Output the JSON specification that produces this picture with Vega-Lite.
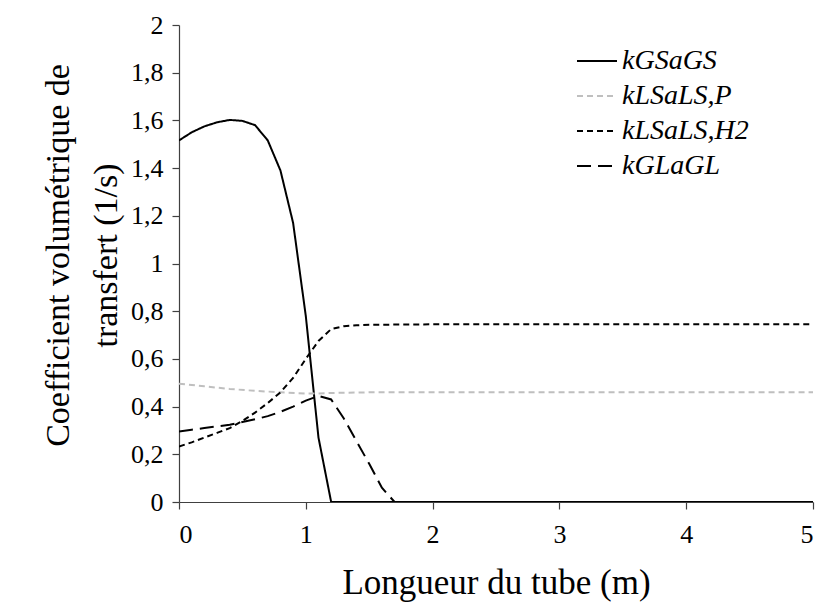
{
  "$schema": "https://vega.github.io/schema/vega-lite/v6.json",
  "autosize": {"type": "none"},
  "width": 634,
  "height": 477,
  "padding": {"left": 179, "top": 25, "right": 11, "bottom": 102},
  "background": "white",
  "config": {
    "view": {"stroke": null},
    "font": "Liberation Serif",
    "locale": {"number": {"decimal": ",", "thousands": " ", "grouping": [3], "currency": ["", " €"]}},
    "axis": {"grid": false, "domainColor": "#404040", "tickColor": "#404040", "labelColor": "black", "titleColor": "black", "titleFontWeight": "normal", "tickSize": 7, "domainWidth": 1.2, "tickWidth": 1.2}
  },
  "data": {"values": [
    {"x": 0, "y": 1.516, "s": "kGSaGS"},
    {"x": 0.1, "y": 1.55, "s": "kGSaGS"},
    {"x": 0.2, "y": 1.575, "s": "kGSaGS"},
    {"x": 0.3, "y": 1.592, "s": "kGSaGS"},
    {"x": 0.4, "y": 1.602, "s": "kGSaGS"},
    {"x": 0.5, "y": 1.598, "s": "kGSaGS"},
    {"x": 0.6, "y": 1.58, "s": "kGSaGS"},
    {"x": 0.7, "y": 1.516, "s": "kGSaGS"},
    {"x": 0.8, "y": 1.39, "s": "kGSaGS"},
    {"x": 0.9, "y": 1.17, "s": "kGSaGS"},
    {"x": 1.0, "y": 0.78, "s": "kGSaGS"},
    {"x": 1.1, "y": 0.27, "s": "kGSaGS"},
    {"x": 1.2, "y": 0, "s": "kGSaGS"},
    {"x": 2, "y": 0, "s": "kGSaGS"},
    {"x": 3, "y": 0, "s": "kGSaGS"},
    {"x": 4, "y": 0, "s": "kGSaGS"},
    {"x": 5, "y": 0, "s": "kGSaGS"},

    {"x": 0, "y": 0.496, "s": "kLSaLS,P"},
    {"x": 0.2, "y": 0.485, "s": "kLSaLS,P"},
    {"x": 0.4, "y": 0.474, "s": "kLSaLS,P"},
    {"x": 0.6, "y": 0.466, "s": "kLSaLS,P"},
    {"x": 0.8, "y": 0.46, "s": "kLSaLS,P"},
    {"x": 1.0, "y": 0.455, "s": "kLSaLS,P"},
    {"x": 1.1, "y": 0.455, "s": "kLSaLS,P"},
    {"x": 1.2, "y": 0.457, "s": "kLSaLS,P"},
    {"x": 1.5, "y": 0.46, "s": "kLSaLS,P"},
    {"x": 2, "y": 0.46, "s": "kLSaLS,P"},
    {"x": 3, "y": 0.46, "s": "kLSaLS,P"},
    {"x": 4, "y": 0.46, "s": "kLSaLS,P"},
    {"x": 5, "y": 0.46, "s": "kLSaLS,P"},

    {"x": 0, "y": 0.233, "s": "kLSaLS,H2"},
    {"x": 0.1, "y": 0.25, "s": "kLSaLS,H2"},
    {"x": 0.2, "y": 0.27, "s": "kLSaLS,H2"},
    {"x": 0.3, "y": 0.29, "s": "kLSaLS,H2"},
    {"x": 0.4, "y": 0.31, "s": "kLSaLS,H2"},
    {"x": 0.5, "y": 0.34, "s": "kLSaLS,H2"},
    {"x": 0.6, "y": 0.375, "s": "kLSaLS,H2"},
    {"x": 0.7, "y": 0.415, "s": "kLSaLS,H2"},
    {"x": 0.8, "y": 0.46, "s": "kLSaLS,H2"},
    {"x": 0.9, "y": 0.52, "s": "kLSaLS,H2"},
    {"x": 1.0, "y": 0.6, "s": "kLSaLS,H2"},
    {"x": 1.1, "y": 0.675, "s": "kLSaLS,H2"},
    {"x": 1.2, "y": 0.725, "s": "kLSaLS,H2"},
    {"x": 1.3, "y": 0.737, "s": "kLSaLS,H2"},
    {"x": 1.4, "y": 0.741, "s": "kLSaLS,H2"},
    {"x": 1.5, "y": 0.743, "s": "kLSaLS,H2"},
    {"x": 2, "y": 0.745, "s": "kLSaLS,H2"},
    {"x": 3, "y": 0.745, "s": "kLSaLS,H2"},
    {"x": 4, "y": 0.745, "s": "kLSaLS,H2"},
    {"x": 5, "y": 0.745, "s": "kLSaLS,H2"},

    {"x": 0, "y": 0.296, "s": "kGLaGL"},
    {"x": 0.1, "y": 0.303, "s": "kGLaGL"},
    {"x": 0.2, "y": 0.31, "s": "kGLaGL"},
    {"x": 0.3, "y": 0.317, "s": "kGLaGL"},
    {"x": 0.4, "y": 0.324, "s": "kGLaGL"},
    {"x": 0.5, "y": 0.335, "s": "kGLaGL"},
    {"x": 0.6, "y": 0.347, "s": "kGLaGL"},
    {"x": 0.7, "y": 0.36, "s": "kGLaGL"},
    {"x": 0.8, "y": 0.378, "s": "kGLaGL"},
    {"x": 0.9, "y": 0.4, "s": "kGLaGL"},
    {"x": 1.0, "y": 0.425, "s": "kGLaGL"},
    {"x": 1.1, "y": 0.445, "s": "kGLaGL"},
    {"x": 1.2, "y": 0.43, "s": "kGLaGL"},
    {"x": 1.3, "y": 0.35, "s": "kGLaGL"},
    {"x": 1.4, "y": 0.255, "s": "kGLaGL"},
    {"x": 1.5, "y": 0.16, "s": "kGLaGL"},
    {"x": 1.6, "y": 0.06, "s": "kGLaGL"},
    {"x": 1.7, "y": 0, "s": "kGLaGL"},
    {"x": 2, "y": 0, "s": "kGLaGL"},
    {"x": 3, "y": 0, "s": "kGLaGL"},
    {"x": 4, "y": 0, "s": "kGLaGL"},
    {"x": 5, "y": 0, "s": "kGLaGL"}
  ]},
  "mark": {"type": "line", "strokeWidth": 2, "clip": true},
  "encoding": {
    "x": {"field": "x", "type": "quantitative", "scale": {"domain": [0, 5], "nice": false}, "axis": {"values": [0, 1, 2, 3, 4, 5], "format": "d", "title": "Longueur du tube (m)", "labelFont": "Liberation Serif", "titleFont": "Liberation Serif", "labelFontSize": 26, "titleFontSize": 35, "labelPadding": 12, "titlePadding": 18}},
    "y": {"field": "y", "type": "quantitative", "scale": {"domain": [0, 2], "nice": false}, "axis": {"values": [0, 0.2, 0.4, 0.6, 0.8, 1, 1.2, 1.4, 1.6, 1.8, 2], "format": "~g", "title": ["Coefficient volumétrique de", "transfert (1/s)"], "labelFont": "Liberation Serif", "titleFont": "Liberation Serif", "labelFontSize": 26, "titleFontSize": 34, "labelPadding": 9, "titleX": -121, "titleY": 230, "titleBaseline": "middle", "titleLineHeight": 48}},
    "color": {"field": "s", "type": "nominal", "scale": {"domain": ["kGSaGS", "kLSaLS,P", "kLSaLS,H2", "kGLaGL"], "range": ["black", "#bfbfbf", "black", "black"]}, "legend": {"title": null, "orient": "none", "legendX": 397, "legendY": 15, "symbolType": "stroke", "symbolSize": 1600, "symbolStrokeWidth": 2, "labelFont": "Liberation Serif", "labelFontSize": 28, "labelFontStyle": "italic", "labelColor": "black", "rowPadding": 0, "labelOffset": 4}},
    "strokeDash": {"field": "s", "type": "nominal", "scale": {"domain": ["kGSaGS", "kLSaLS,P", "kLSaLS,H2", "kGLaGL"], "range": [[1, 0], [6, 4], [6, 4], [14, 7]]}}
  }
}
